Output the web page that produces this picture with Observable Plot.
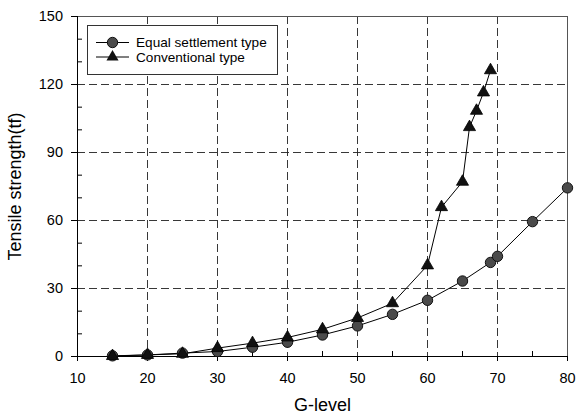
<!DOCTYPE html>
<html><head><meta charset="utf-8">
<script src="https://cdn.jsdelivr.net/npm/d3@7"></script>
<script src="https://cdn.jsdelivr.net/npm/@observablehq/plot@0.6"></script>
<style>
body{margin:0;background:#fff}
#chart{width:576px;height:416px}
</style>
</head><body><div id="chart"></div>
<script>
// Tensile strength vs G-level for two settlement designs
const gLevelEqual = [15, 20, 25, 30, 35, 40, 45, 50, 55, 60, 65, 69, 70, 75, 80];
const strengthEqual = [0.3, 0.7, 1.5, 2.2, 4.1, 6.3, 9.5, 13.5, 18.6, 24.8, 33.3, 41.5, 44.2, 59.5, 74.4];
const gLevelConv = [15, 20, 25, 30, 35, 40, 45, 50, 55, 60, 62, 65, 66, 67, 68, 69];
const strengthConv = [0.2, 0.7, 1.2, 3.7, 5.9, 8.4, 12.0, 17.0, 23.5, 40.2, 65.9, 77.1, 101.2, 108.4, 116.5, 126.3];
const xTicks = [10, 20, 30, 40, 50, 60, 70, 80];
const xMinor = [15, 25, 35, 45, 55, 65, 75];
const yTicks = [0, 30, 60, 90, 120, 150];
const yMinor = [10, 20, 40, 50, 70, 80, 100, 110, 130, 140];
const seriesNames = ["Equal settlement type", "Conventional type"];

const equal = gLevelEqual.map((g, i) => ({g, s: strengthEqual[i]}));
const conv = gLevelConv.map((g, i) => ({g, s: strengthConv[i]}));

const font = "'Liberation Sans', Arial, sans-serif";
const circleFill = "#4a4a4a";
const triR = 4.5; // triangle symbol radius (area = PI r^2)

const plot = Plot.plot({
  width: 576,
  height: 416,
  marginLeft: 77,
  marginRight: 9,
  marginTop: 16,
  marginBottom: 60,
  style: {fontFamily: font, fontSize: "14.5px", color: "#000", background: "#fff"},
  x: {domain: [10, 80]},
  y: {domain: [0, 150]},
  marks: [
    Plot.gridX(xTicks.filter(d => d > 10 && d < 80), {stroke: "#222", strokeOpacity: 0.9, strokeDasharray: "8,4"}),
    Plot.gridY(yTicks.filter(d => d > 0 && d < 150), {stroke: "#222", strokeOpacity: 0.9, strokeDasharray: "8,4"}),
    Plot.frame({stroke: "#555"}),
    Plot.axisX({ticks: xTicks, tickSize: 5, tickPadding: 11, label: "G-level", labelAnchor: "center", labelArrow: "none", labelOffset: 54, fontSize: 14.5}),
    Plot.axisX({ticks: xMinor, tickSize: -5, text: null, label: null}),
    Plot.axisY({ticks: yTicks, tickSize: 6, tickPadding: 8.5, label: "Tensile strength(tf)", labelAnchor: "center", labelArrow: "none", labelOffset: 69, fontSize: 14.5}),
    Plot.axisY({ticks: yMinor, tickSize: -5, text: null, label: null}),
    Plot.ruleX([10], {stroke: "#000"}),
    Plot.ruleY([0], {stroke: "#000"}),
    Plot.line(equal, {x: "g", y: "s", stroke: "#000", strokeWidth: 1}),
    Plot.line(conv, {x: "g", y: "s", stroke: "#000", strokeWidth: 1}),
    Plot.dot(equal, {x: "g", y: "s", r: 5.2, fill: circleFill, stroke: "#111", strokeWidth: 1}),
    Plot.dot(conv, {x: "g", y: "s", r: triR, symbol: "triangle", fill: "#111", stroke: "#000", strokeWidth: 0.8})
  ]
});

// Axis title sizes
d3.select(plot).selectAll("[aria-label='x-axis label'] text").style("font-size", "18px");
d3.select(plot).selectAll("[aria-label='y-axis label'] text").style("font-size", "18px");

document.getElementById("chart").appendChild(plot);

// Legend box inside the plot area (top-left corner)
const svg = d3.select(plot);
const lg = svg.append("g").attr("font-family", font).attr("font-size", "13.6px").attr("text-anchor", "start");
lg.append("rect").attr("x", 87.5).attr("y", 25.5).attr("width", 190).attr("height", 49)
  .attr("fill", "#fff").attr("stroke", "#333").attr("stroke-width", 1);
const rows = [42.5, 57];
seriesNames.forEach((name, i) => {
  const y = rows[i];
  lg.append("line").attr("x1", 96).attr("x2", 129).attr("y1", y).attr("y2", y).attr("stroke", "#000");
  if (i === 0) {
    lg.append("circle").attr("cx", 112.5).attr("cy", y).attr("r", 5.2).attr("fill", circleFill).attr("stroke", "#111");
  } else {
    lg.append("path").attr("d", d3.symbol(d3.symbolTriangle, Math.PI * triR * triR)())
      .attr("transform", `translate(112.5,${y})`).attr("fill", "#111");
  }
  lg.append("text").attr("x", 136).attr("y", y).attr("dy", "0.35em").attr("fill", "#000").text(name);
});
</script>
</body></html>
